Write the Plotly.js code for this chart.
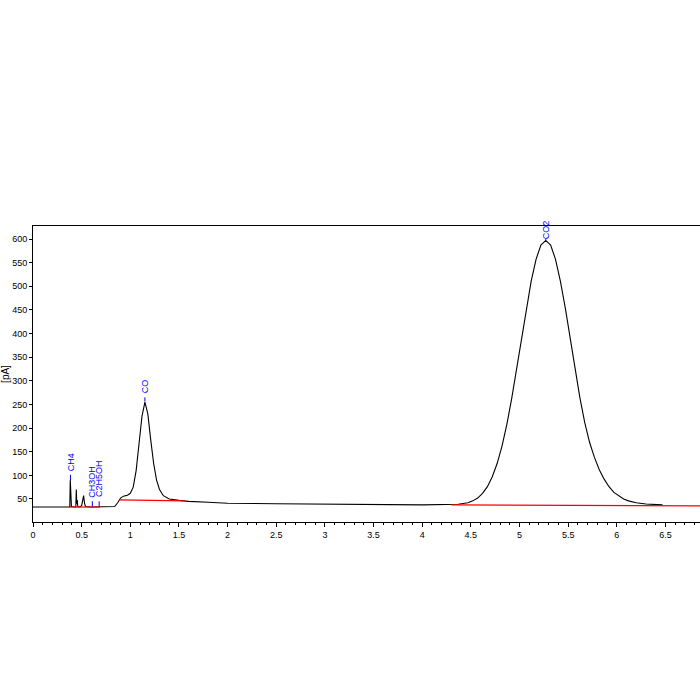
<!DOCTYPE html>
<html><head><meta charset="utf-8">
<script src="https://cdn.plot.ly/plotly-3.0.1.min.js"></script>
<style>body{margin:0;background:#fff}#chart{width:700px;height:700px}</style>
</head><body><div id="chart"></div>
<script>
// Chromatogram signal [min] vs [pA]
const sigTime = [0,0.37,0.378,0.383,0.388,0.395,0.43,0.44,0.445,0.45,0.455,0.46,0.48,0.50,0.51,0.52,0.53,0.54,0.60,0.80,
 0.84,0.87,0.90,0.93,0.97,1.00,1.03,1.06,1.09,1.12,1.15,1.18,1.21,1.24,1.27,1.30,1.34,1.40,1.50,1.60,1.80,2.00,2.50,2.90,3.00,4.00,4.37,
 4.47,4.52,4.57,4.62,4.67,4.72,4.77,4.82,4.87,4.92,4.97,5.02,5.07,5.12,5.17,5.22,5.27,5.32,5.37,5.42,5.47,5.52,5.57,5.62,5.67,5.72,5.77,5.82,5.87,5.92,5.97,6.02,6.07,6.12,6.20,6.30,6.40,6.47];
const sigValue = [33,33,33,90,40,34,33,33,70,40,48,34,33,36,50,57,40,34,33,33,
 34,42,52,56,58,62,75,110,165,225,255,230,175,125,90,70,57,50,47,45,43,41,40,39.5,38,37.5,39,
 42,46,52,62,76,97,125,162,208,263,325,390,454,511,557,587,597,587,557,511,455,392,328,265,212,170,138,112,92,76,64,56,50,46,42,39.5,38,37.5];
// Integration baselines (red)
const base1Time = [0.38,0.69], base1Value = [33,33];
const base2Time = [0.89,1.56], base2Value = [48,46];
const base3Time = [4.30,5.14,5.14,6.855], base3Value = [37.5,37.3,36,35.5];
// Peak labels
const peakNames = ["CH4","CH3OH","C2H5OH","CO","CO2"];
const peakTime = [0.385,0.61,0.68,1.15,5.27];
const peakMarkLow = [90,34,34,256,598];
const peakMarkHigh = [101,45,45,265,600];

const traces = [
 {x:sigTime,y:sigValue,mode:'lines',line:{color:'#000',width:1.1},hoverinfo:'skip'},
 {x:base1Time,y:base1Value,mode:'lines',line:{color:'#ff0000',width:1.2}},
 {x:base2Time,y:base2Value,mode:'lines',line:{color:'#ff0000',width:1.2}},
 {x:base3Time,y:base3Value,mode:'lines',line:{color:'#ff0000',width:1.2}}
];
const shapes = peakTime.map((t,i)=>({type:'line',xref:'x',yref:'y',x0:t,x1:t,y0:peakMarkLow[i],y1:peakMarkHigh[i],line:{color:'#0000ff',width:1}}));
const annotations = peakNames.map((n,i)=>({x:peakTime[i],y:peakMarkHigh[i],xref:'x',yref:'y',text:n,showarrow:false,textangle:-90,
  xanchor:'center',yanchor:'bottom',yshift:(i===4?-2:2),font:{family:'Liberation Sans, Arial',size:9,color:'#0000ff'}}));

const layout = {
 width:700,height:700,paper_bgcolor:'#fff',plot_bgcolor:'#fff',showlegend:false,
 margin:{l:33,r:0,t:226,b:178},
 font:{family:'Liberation Sans, Arial',size:9,color:'#000'},
 xaxis:{range:[0,6.855],tickmode:'linear',tick0:0,dtick:0.5,ticks:'outside',ticklen:4,tickcolor:'#000',
   minor:{dtick:0.1,ticks:'outside',ticklen:2,tickcolor:'#000'},
   showline:true,linecolor:'#000',linewidth:1,mirror:true,showgrid:false,zeroline:false,
   tickfont:{size:9}},
 yaxis:{range:[1.3,627.5],tickmode:'linear',tick0:50,dtick:50,ticks:'outside',ticklen:3,tickcolor:'#000',
   showline:true,linecolor:'#000',linewidth:1,mirror:true,showgrid:false,zeroline:false,
   tickfont:{size:9},title:{text:'[pA]',font:{size:10},standoff:7}},
 shapes:shapes,annotations:annotations
};
Plotly.newPlot('chart',traces,layout,{staticPlot:true,displayModeBar:false});
</script></body></html>
